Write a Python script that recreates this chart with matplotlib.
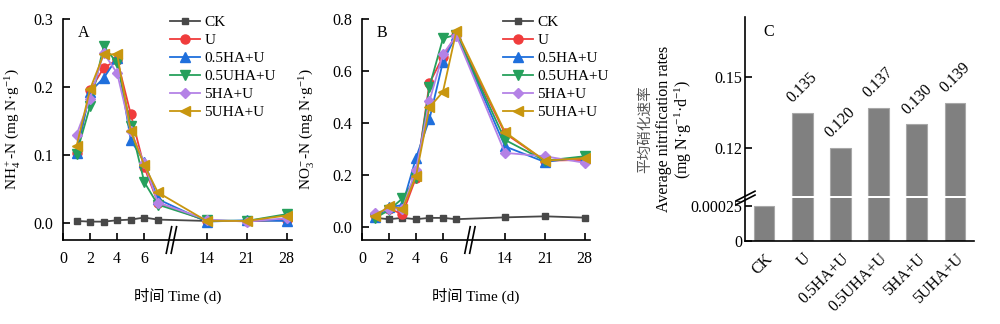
import matplotlib
matplotlib.use("Agg")
import matplotlib.pyplot as plt
from matplotlib.lines import Line2D

plt.rcParams['font.family'] = ['Liberation Serif', 'Noto Sans CJK SC']
plt.rcParams['mathtext.fontset'] = 'custom'
plt.rcParams['mathtext.rm'] = 'Liberation Serif'
plt.rcParams['mathtext.it'] = 'Liberation Serif:italic'
plt.rcParams['font.size'] = 11
plt.rcParams['axes.linewidth'] = 1.2

# ---- data ----
days = [1, 2, 3, 4, 5, 6, 7, 14, 21, 28]
treatments = ['CK', 'U', '0.5HA+U', '0.5UHA+U', '5HA+U', '5UHA+U']

nh4_ck      = [0.003, 0.002, 0.002, 0.004, 0.005, 0.008, 0.005, 0.003, 0.003, 0.004]
nh4_u       = [0.103, 0.195, 0.228, 0.240, 0.160, 0.082, 0.030, 0.003, 0.003, 0.005]
nh4_05ha    = [0.103, 0.193, 0.213, 0.243, 0.122, 0.090, 0.035, 0.002, 0.004, 0.003]
nh4_05uha   = [0.102, 0.172, 0.260, 0.235, 0.143, 0.060, 0.027, 0.004, 0.003, 0.013]
nh4_5ha     = [0.130, 0.183, 0.250, 0.220, 0.135, 0.088, 0.030, 0.005, 0.002, 0.007]
nh4_5uha    = [0.113, 0.197, 0.248, 0.248, 0.135, 0.085, 0.045, 0.003, 0.003, 0.011]

no3_ck      = [0.035, 0.030, 0.035, 0.030, 0.035, 0.035, 0.030, 0.037, 0.041, 0.036]
no3_u       = [0.045, 0.070, 0.050, 0.190, 0.553, 0.655, 0.740, 0.360, 0.255, 0.258]
no3_05ha    = [0.040, 0.075, 0.085, 0.265, 0.415, 0.635, 0.740, 0.310, 0.250, 0.270]
no3_05uha   = [0.035, 0.065, 0.110, 0.190, 0.540, 0.725, 0.740, 0.335, 0.255, 0.272]
no3_5ha     = [0.053, 0.070, 0.070, 0.220, 0.485, 0.665, 0.735, 0.285, 0.272, 0.247]
no3_5uha    = [0.043, 0.080, 0.070, 0.195, 0.460, 0.520, 0.755, 0.365, 0.255, 0.265]

rate_values = [0.00025, 0.135, 0.120, 0.137, 0.130, 0.139]
rate_labels = ['', '0.135', '0.120', '0.137', '0.130', '0.139']

# ---- styles ----
colors = ['#484848', '#f03c3c', '#1f6fdc', '#26a05c', '#b482e6', '#c8960f']
markers = ['s', 'o', '^', 'v', 'D', '<']
msizes = [4.5, 6.5, 6.5, 6.5, 5.5, 6.5]

# compressed time axis: days 1-7 linear, 14/21/28 after a break
day_pos = {1: 1, 2: 2, 3: 3, 4: 4, 5: 5, 6: 6, 7: 7, 14: 10.6, 21: 13.55, 28: 16.5}
tick_days = [0, 2, 4, 6, 14, 21, 28]
tick_pos = [0, 2, 4, 6, 10.6, 13.55, 16.5]
xpos = [day_pos[d] for d in days]

fig = plt.figure(figsize=(10, 3.24), dpi=100)

ax_a = fig.add_axes([0.063, 0.2593, 0.229, 0.6821])
ax_b = fig.add_axes([0.362, 0.2593, 0.228, 0.6821])


def line_panel(ax, series, ylim, yticks, ylabel, letter, leg_x, lab_x):
    for s, c, m, ms, lab in zip(series, colors, markers, msizes, treatments):
        ax.plot(xpos, s, color=c, marker=m, markersize=ms, lw=1.3,
                markeredgecolor=c, label=lab)
    ax.set_xlim(0, 16.9)
    ax.set_ylim(*ylim)
    ax.set_yticks(yticks)
    ax.set_yticklabels([f'{t:.1f}' for t in yticks])
    ax.set_xticks(tick_pos)
    ax.set_xticklabels([str(d) for d in tick_days])
    ax.tick_params(direction='in', length=5, width=1.2, pad=7, labelsize=11.5)
    ax.tick_params(axis='x', pad=8)
    for sp in ('top', 'right'):
        ax.spines[sp].set_visible(False)
    ax.set_xlabel('时间 Time (d)', fontsize=11, labelpad=15)
    ax.set_ylabel(ylabel, fontsize=11)
    ax.yaxis.set_label_coords(lab_x, 0.5)
    ax.text(0.065, 0.975, letter, transform=ax.transAxes, fontsize=11.5,
            va='top', ha='left')
    # axis break marks
    for dx in (-0.18, 0.18):
        ax.plot([7.8 + dx, 8.2 + dx], [-0.06, 0.06], transform=ax.get_xaxis_transform(),
                color='black', lw=1.2, clip_on=False)
    ax.legend(loc='upper left', bbox_to_anchor=(leg_x, 1.015), frameon=False,
              handlelength=2.0, handletextpad=0.25, labelspacing=0.28,
              borderpad=0, borderaxespad=0, fontsize=11)


line_panel(ax_a, [nh4_ck, nh4_u, nh4_05ha, nh4_05uha, nh4_5ha, nh4_5uha],
           (-0.025, 0.3), [0.0, 0.1, 0.2, 0.3],
           'NH$_4^+$-N (mg N·g$^{-1}$)', 'A', 0.467, -0.18)
line_panel(ax_b, [no3_ck, no3_u, no3_05ha, no3_05uha, no3_5ha, no3_5uha],
           (-0.05, 0.8), [0.0, 0.2, 0.4, 0.6, 0.8],
           'NO$_3^-$-N (mg N·g$^{-1}$)', 'B', 0.618, -0.2)

# ---- panel C: broken-axis bar chart ----
ax_ct = fig.add_axes([0.745, 0.395, 0.229, 0.5525])
ax_cb = fig.add_axes([0.745, 0.2562, 0.229, 0.1327], sharex=ax_ct)
xs = list(range(len(treatments)))
for ax in (ax_ct, ax_cb):
    ax.bar(xs, rate_values, width=0.54, color='#808080', edgecolor='#a8a8a8', lw=0.8)
    ax.set_xlim(-0.5, 5.5)
    ax.spines['top'].set_visible(False)
    ax.spines['right'].set_visible(False)
    ax.tick_params(direction='in', length=5, width=1.2, pad=2, labelsize=11.5)

ax_ct.set_ylim(0.0997, 0.1754)
ax_ct.set_yticks([0.12, 0.15])
ax_ct.set_yticklabels(['0.12', '0.15'])
ax_ct.spines['bottom'].set_visible(False)
ax_ct.tick_params(axis='x', bottom=False, labelbottom=False)

ax_cb.set_ylim(0, 0.000305)
ax_cb.set_yticks([0, 0.00025])
ax_cb.set_yticklabels(['0', '0.00025'])
ax_cb.set_xticks(xs)
ax_cb.set_xticklabels(treatments, rotation=45, ha='right', rotation_mode='anchor')
ax_cb.tick_params(axis='x', length=0, pad=7)

for x, v, lab in zip(xs, rate_values, rate_labels):
    if lab:
        ax_ct.annotate(lab, xy=(x, v), xytext=(0, 5), textcoords='offset points',
                       ha='center', va='bottom', rotation=45, fontsize=11.5)

ax_ct.text(0.08, 0.96, 'C', transform=ax_ct.transAxes, fontsize=11.5, va='top', ha='left')

# break marks on the left spine of panel C
for dy in (-0.006, 0.006):
    fig.add_artist(Line2D([0.736, 0.755], [0.374 + dy, 0.404 + dy], color='black',
                          lw=1.2, transform=fig.transFigure))

fig.text(0.645, 0.602, '平均硝化速率', rotation=90, ha='center', va='center',
         fontsize=10.5, color='#555555', family=['Noto Sans CJK SC'])
fig.text(0.664, 0.602, 'Average nitrification rates', rotation=90, ha='center',
         va='center', fontsize=11.5)
fig.text(0.683, 0.602, '(mg N·g$^{-1}$·d$^{-1}$)', rotation=90, ha='center',
         va='center', fontsize=11.5)

fig.savefig('out.png', dpi=100)
